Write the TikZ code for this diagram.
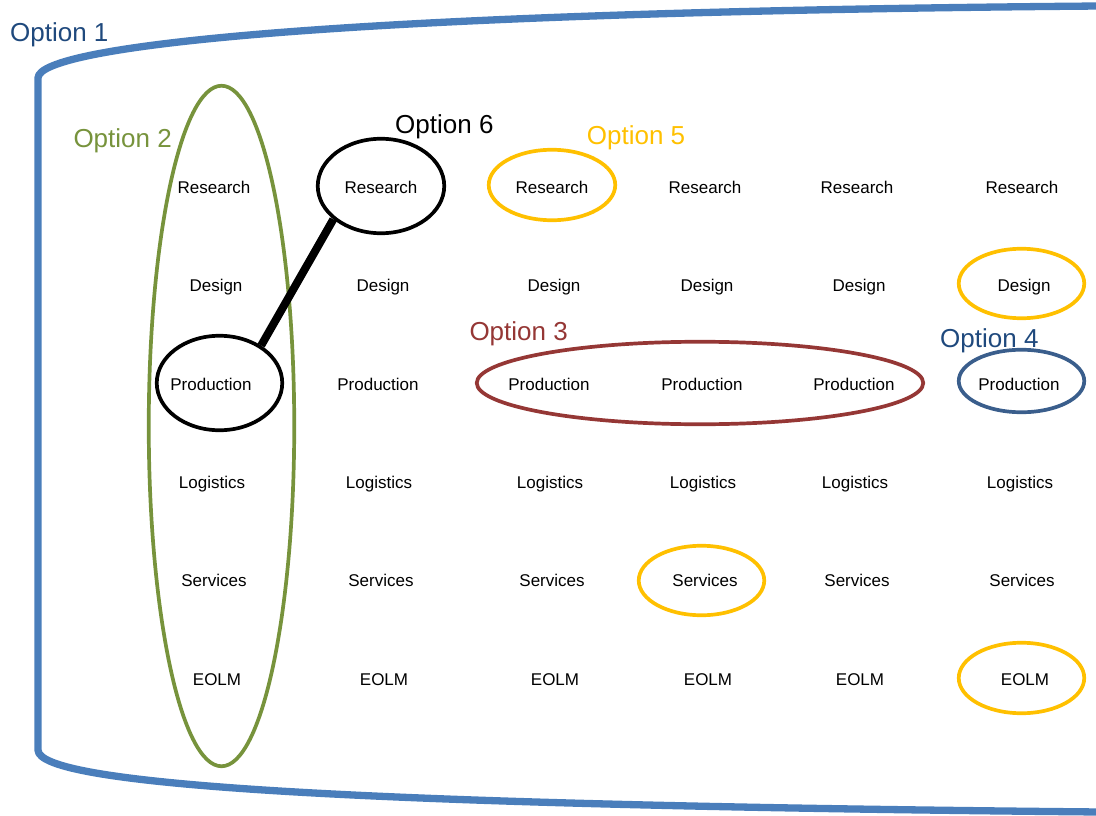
\documentclass[tikz,border=0pt]{standalone}
\usepackage{fontspec}
\setmainfont{Liberation Sans}
\usetikzlibrary{shapes.geometric}

\definecolor{framblue}{HTML}{4A7EBB}
\definecolor{navy}{HTML}{1F497D}
\definecolor{olive}{HTML}{77933C}
\definecolor{amber}{HTML}{FFC000}
\definecolor{brick}{HTML}{953735}
\definecolor{steel}{HTML}{3A5E8C}

\tikzset{
  cell/.style={anchor=base, inner sep=0pt, font=\fontsize{17}{20}\selectfont},
  optlabel/.style={anchor=base west, inner sep=0pt, font=\fontsize{26}{30}\selectfont},
  ring/.style={ellipse, draw, line width=3.7pt, inner sep=0pt, minimum width=#1},
  frame/.style={draw=framblue, line width=7.3pt, line join=round},
  link/.style={line width=8pt}
}

\begin{document}
\begin{tikzpicture}[x=1pt, y=-1pt]
\useasboundingbox (0,0) rectangle (1096,816);

% outer boundary (Option 1)
\draw[frame] (1100,6) .. controls (350,12) and (38,45) .. (38,78)
  -- (38,750) .. controls (38,785) and (350,805) .. (1100,812);

% grid of activities
\foreach \lbl/\dx [count=\r] in {Research/0,Design/2,Production/-3,Logistics/-2,Services/0,EOLM/3}{
  \foreach \cx [count=\c] in {214,381,552,705,857,1022}{
    \node[cell] (c\r-\c) at ({\cx+\dx}, {193.3+98.4*(\r-1)}) {\lbl};
  }
}

% Option 2: whole first column
\node[ring=145.5, draw=olive, minimum height=680.5] (o2) at (221.5,426) {};

% Option 6: linked research and production
\node[ring=126.5, draw=black, minimum height=94.5] (o6a) at (381,186) {};
\node[ring=125.5, draw=black, minimum height=94.5] (o6b) at (219.5,383) {};
\draw[link] (o6a.215) -- (o6b.42);

% Option 5: single activities
\node[ring=126.5, draw=amber, minimum height=70.5] (o5a) at (552,185) {};
\node[ring=125.5, draw=amber, minimum height=69.5] (o5b) at (1021.5,283.5) {};
\node[ring=125.5, draw=amber, minimum height=69.5] (o5c) at (701.5,580.5) {};
\node[ring=125.5, draw=amber, minimum height=70.5] (o5d) at (1021.5,678) {};

% Option 3: production across columns
\node[ring=446.5, draw=brick, minimum height=82.5] (o3) at (700,383) {};

% Option 4: single production
\node[ring=125.5, draw=steel, minimum height=62.5] (o4) at (1021.5,381) {};

% labels
\node[optlabel, text=navy]  (l1) at (10,41.5)   {Option 1};
\node[optlabel, text=olive] (l2) at (73.3,147.3) {Option 2};
\node[optlabel, text=brick] (l3) at (469.3,340.7) {Option 3};
\node[optlabel, text=navy]  (l4) at (940,347.3) {Option 4};
\node[optlabel, text=amber] (l5) at (586.7,144.3) {Option 5};
\node[optlabel, text=black] (l6) at (395,133.5) {Option 6};
\end{tikzpicture}
\end{document}
